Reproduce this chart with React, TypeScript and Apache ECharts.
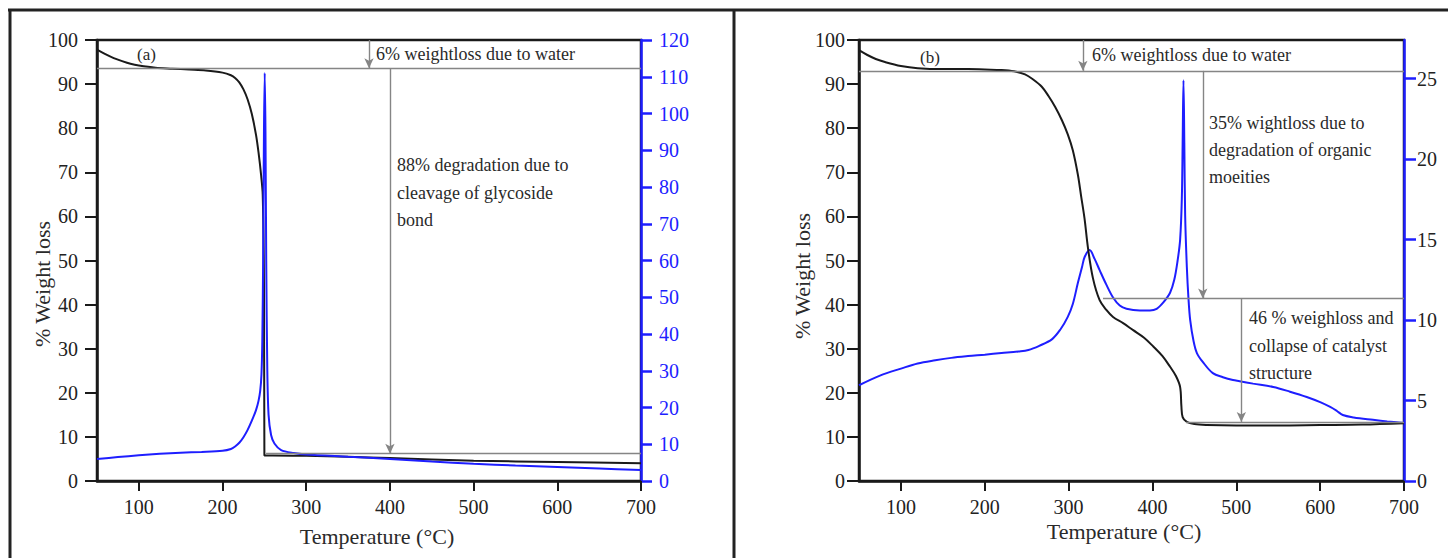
import React, { useEffect, useRef } from "react";
import * as echarts from "echarts";

const TEMP_TICKS = [100, 200, 300, 400, 500, 600, 700];
const DTG_B_TICKS = [0, 5, 10, 15, 20, 25];

// Panel (a): TG curve (% weight, left axis)
const TG_A: [number, number][] = [
  [50, 97.8], [60, 96.8], [70, 95.9], [80, 95.2], [90, 94.6], [100, 94.2], [120, 93.7],
  [140, 93.5], [160, 93.3], [180, 93.1], [200, 92.6], [210, 92.0], [215, 91.4], [220, 90.4],
  [225, 88.8], [230, 86.5], [235, 83.2], [240, 78.5], [243, 74.5], [246, 69.5], [248, 65],
  [249.5, 45], [250, 5.8], [260, 5.8], [300, 5.7], [350, 5.5], [400, 5.2], [500, 4.6],
  [600, 4.3], [700, 4.0],
];
// Panel (a): DTG curve (right axis 0-120)
const DTG_A: [number, number][] = [
  [50, 6.0], [75, 6.5], [100, 7.0], [125, 7.4], [150, 7.7], [175, 7.9], [200, 8.2], [210, 8.7],
  [215, 9.4], [220, 10.4], [225, 11.9], [230, 13.9], [235, 16.4], [240, 19.3], [243, 21.8],
  [245, 24.5], [246.5, 29], [247.5, 38], [248.5, 60], [249.5, 95], [250.4, 111], [251.3, 95],
  [252.2, 60], [253.5, 30], [255, 18], [258, 12.5], [262, 10.2], [270, 8.4], [285, 7.6],
  [300, 7.2], [350, 6.6], [400, 6.0], [450, 5.3], [500, 4.7], [550, 4.2], [600, 3.8],
  [650, 3.4], [700, 3.0],
];
// Panel (b): TG curve
const TG_B: [number, number][] = [
  [50, 97.7], [60, 96.6], [70, 95.7], [81, 95.0], [100, 94.1], [120, 93.6], [150, 93.4],
  [180, 93.4], [200, 93.3], [220, 93.2], [235, 92.9], [248, 92.2], [258, 91.0], [268, 89.4],
  [276, 87.3], [284, 84.8], [292, 81.8], [299, 78.6], [305, 75.0], [311, 69.5], [315, 64.5],
  [319, 59.5], [323, 53], [329, 46], [337, 41], [345, 38.8], [353, 37.2], [365, 35.8],
  [377, 34.2], [390, 32.5], [401, 30.5], [412, 28.3], [421, 25.9], [428, 23.8], [433, 21.3],
  [434.5, 17], [436, 14.5], [441, 13.4], [450, 12.9], [465, 12.7], [500, 12.6], [550, 12.6],
  [600, 12.7], [650, 12.8], [700, 13.1],
];
// Panel (b): DTG curve (right axis)
const DTG_B: [number, number][] = [
  [50, 5.95], [75, 6.55], [101, 7.0], [120, 7.3], [141, 7.5], [160, 7.65], [180, 7.76],
  [200, 7.85], [220, 7.95], [240, 8.05], [252, 8.14], [265, 8.4], [280, 8.8], [290, 9.4],
  [299, 10.2], [305, 11], [311, 12.3], [316, 13.3], [319, 13.9], [325, 14.35], [331, 13.8],
  [337, 13.1], [345, 12.2], [353, 11.4], [361, 10.9], [369, 10.7], [385, 10.6], [397, 10.6],
  [405, 10.7], [413, 11.1], [421, 11.7], [426, 12.5], [430, 13.7], [433, 15], [435, 17.5],
  [436, 21], [437, 24.9], [438, 21], [439, 16.5], [441, 13.3], [443, 11.3], [445, 10],
  [449, 8.7], [453, 7.95], [460, 7.4], [472, 6.7], [484, 6.45], [496, 6.27], [504, 6.2],
  [520, 6.05], [544, 5.84], [564, 5.55], [584, 5.22], [600, 4.9], [612, 4.6], [620, 4.35],
  [627, 4.1], [640, 3.95], [663, 3.8], [680, 3.7], [700, 3.6],
];

// Annotation levels (% weight) and arrow temperatures
const A_WATER_LEVEL = 93.6;
const A_FINAL_LEVEL = 6.2;
const A_ARROW_T = [375, 400];
const B_WATER_LEVEL = 93.0;
const B_MID_LEVEL = 41.4;
const B_FINAL_LEVEL = 13.4;
const B_ARROW_T = [317, 460, 506];

const TEXT_A_WATER = "6% weightloss due to water";
const TEXT_A_DEG = ["88% degradation due to", "cleavage of glycoside", "bond"];
const TEXT_B_WATER = "6% weightloss due to water";
const TEXT_B_ORG = ["35% wightloss due to", "degradation of organic", "moeities"];
const TEXT_B_COL = ["46 % weighloss and", "collapse of catalyst", "structure"];

const BLUE = "#1e1eff";
const INK = "#1a1a1a";
const GRAY = "#858585";
const SERIF = "Liberation Serif";

function seg(x1: number, y1: number, x2: number, y2: number, arrow = false) {
  return [
    { coord: [x1, y1], symbol: "none" },
    { coord: [x2, y2], symbol: arrow ? "arrow" : "none", symbolSize: [7, 10] },
  ];
}

function txt(x: number, y: number, text: string, size = 18, extra: any = {}) {
  const { align, ...rest } = extra;
  return {
    type: "text",
    x,
    y,
    silent: true,
    ...rest,
    style: {
      text,
      fontFamily: SERIF,
      fontSize: size,
      fill: "#2a2a2a",
      align: align || "left",
      verticalAlign: "middle",
    },
  };
}

function lines(x: number, y0: number, arr: string[], lh: number) {
  return arr.map((t, i) => txt(x, y0 + i * lh, t));
}

export default function App() {
  const ref = useRef<HTMLDivElement>(null);
  useEffect(() => {
    if (!ref.current) return;
    const chart = echarts.init(ref.current, undefined, { renderer: "svg" });

    const xAxisBase = (gridIndex: number) => ({
      type: "value",
      gridIndex,
      min: 50,
      max: 700,
      axisLine: { lineStyle: { color: INK, width: 2.5 } },
      axisTick: { customValues: TEMP_TICKS, length: 10, lineStyle: { color: INK, width: 2 } },
      axisLabel: { customValues: TEMP_TICKS, fontSize: 20, fontFamily: SERIF, color: "#222", margin: 16 },
      splitLine: { show: false },
    });

    const weightAxis = (gridIndex: number, margin: number) => ({
      type: "value",
      gridIndex,
      min: 0,
      max: 100,
      interval: 10,
      position: "left",
      axisLine: { show: true, lineStyle: { color: INK, width: 2.5 } },
      axisTick: { show: true, length: 12, lineStyle: { color: INK, width: 2 } },
      axisLabel: { fontSize: 20, fontFamily: SERIF, color: "#222", margin },
      splitLine: { show: false },
    });

    const mlBase = {
      silent: true,
      symbol: ["none", "none"],
      label: { show: false },
      lineStyle: { color: GRAY, width: 1.4, type: "solid" },
      itemStyle: { color: "#333" },
      emphasis: { disabled: true },
      animation: false,
    };

    chart.setOption({
      animation: false,
      backgroundColor: "#fff",
      textStyle: { fontFamily: SERIF },
      grid: [
        { left: 97, top: 40, width: 544, height: 441, show: true, borderColor: INK, borderWidth: 2.5, backgroundColor: "transparent" },
        { left: 859, top: 40, width: 545, height: 441, show: true, borderColor: INK, borderWidth: 2.5, backgroundColor: "transparent" },
      ],
      xAxis: [xAxisBase(0), xAxisBase(1)],
      yAxis: [
        weightAxis(0, 19),
        {
          type: "value",
          gridIndex: 0,
          min: 0,
          max: 120,
          interval: 10,
          position: "right",
          axisLine: { show: true, lineStyle: { color: BLUE, width: 2.5 } },
          axisTick: { show: true, length: 11, lineStyle: { color: BLUE, width: 2.5 } },
          axisLabel: { fontSize: 20, fontFamily: SERIF, color: BLUE, margin: 18 },
          splitLine: { show: false },
        },
        weightAxis(1, 14),
        {
          type: "value",
          gridIndex: 1,
          min: 0,
          max: 27.4,
          position: "right",
          axisLine: { show: true, lineStyle: { color: BLUE, width: 2.5 } },
          axisTick: { show: true, customValues: DTG_B_TICKS, length: 12, lineStyle: { color: BLUE, width: 2.5 } },
          axisLabel: { customValues: DTG_B_TICKS, fontSize: 20, fontFamily: SERIF, color: "#222", margin: 13 },
          splitLine: { show: false },
        },
      ],
      series: [
        {
          type: "line",
          xAxisIndex: 0,
          yAxisIndex: 0,
          data: TG_A,
          showSymbol: false,
          smooth: 0.3,
          lineStyle: { color: INK, width: 2 },
          z: 3,
          markLine: {
            ...mlBase,
            data: [
              seg(50, A_WATER_LEVEL, 700, A_WATER_LEVEL),
              seg(A_ARROW_T[0], 100, A_ARROW_T[0], A_WATER_LEVEL, true),
              seg(A_ARROW_T[1], A_WATER_LEVEL, A_ARROW_T[1], A_FINAL_LEVEL, true),
              seg(252, A_FINAL_LEVEL, 700, A_FINAL_LEVEL),
            ],
          },
        },
        {
          type: "line",
          xAxisIndex: 0,
          yAxisIndex: 1,
          data: DTG_A,
          showSymbol: false,
          smooth: 0.3,
          lineStyle: { color: BLUE, width: 2 },
          z: 4,
        },
        {
          type: "line",
          xAxisIndex: 1,
          yAxisIndex: 2,
          data: TG_B,
          showSymbol: false,
          smooth: 0.35,
          lineStyle: { color: INK, width: 2 },
          z: 4,
          markLine: {
            ...mlBase,
            data: [
              seg(50, B_WATER_LEVEL, 700, B_WATER_LEVEL),
              seg(B_ARROW_T[0], 100, B_ARROW_T[0], B_WATER_LEVEL, true),
              seg(B_ARROW_T[1], B_WATER_LEVEL, B_ARROW_T[1], B_MID_LEVEL, true),
              seg(341, B_MID_LEVEL, 700, B_MID_LEVEL),
              seg(B_ARROW_T[2], B_MID_LEVEL, B_ARROW_T[2], B_FINAL_LEVEL, true),
              seg(440, B_FINAL_LEVEL, 700, B_FINAL_LEVEL),
            ],
          },
        },
        {
          type: "line",
          xAxisIndex: 1,
          yAxisIndex: 3,
          data: DTG_B,
          showSymbol: false,
          smooth: 0.35,
          lineStyle: { color: BLUE, width: 2 },
          z: 3,
        },
      ],
      graphic: [
        { type: "line", silent: true, shape: { x1: 8, y1: 10, x2: 1448, y2: 10 }, style: { stroke: "#222", lineWidth: 3 } },
        { type: "line", silent: true, shape: { x1: 10, y1: 9, x2: 10, y2: 558 }, style: { stroke: "#222", lineWidth: 3 } },
        { type: "line", silent: true, shape: { x1: 734, y1: 9, x2: 734, y2: 558 }, style: { stroke: "#222", lineWidth: 3 } },
        txt(42, 284, "% Weight loss", 22, { rotation: Math.PI / 2, align: "center" }),
        txt(802, 276, "% Weight loss", 22, { rotation: Math.PI / 2, align: "center" }),
        txt(377, 536, "Temperature (°C)", 22, { align: "center" }),
        txt(1124, 531, "Temperature (°C)", 22, { align: "center" }),
        txt(137, 54, "(a)", 17),
        txt(920, 57, "(b)", 17),
        txt(376, 54, TEXT_A_WATER),
        ...lines(397, 165, TEXT_A_DEG, 27.5),
        txt(1092, 55, TEXT_B_WATER),
        ...lines(1209, 123, TEXT_B_ORG, 27),
        ...lines(1249, 318, TEXT_B_COL, 27.5),
      ],
    });
    return () => chart.dispose();
  }, []);
  return (
    <div
      ref={ref}
      style={{ position: "absolute", left: 0, top: 0, width: 1448, height: 558, background: "#fff" }}
    />
  );
}
